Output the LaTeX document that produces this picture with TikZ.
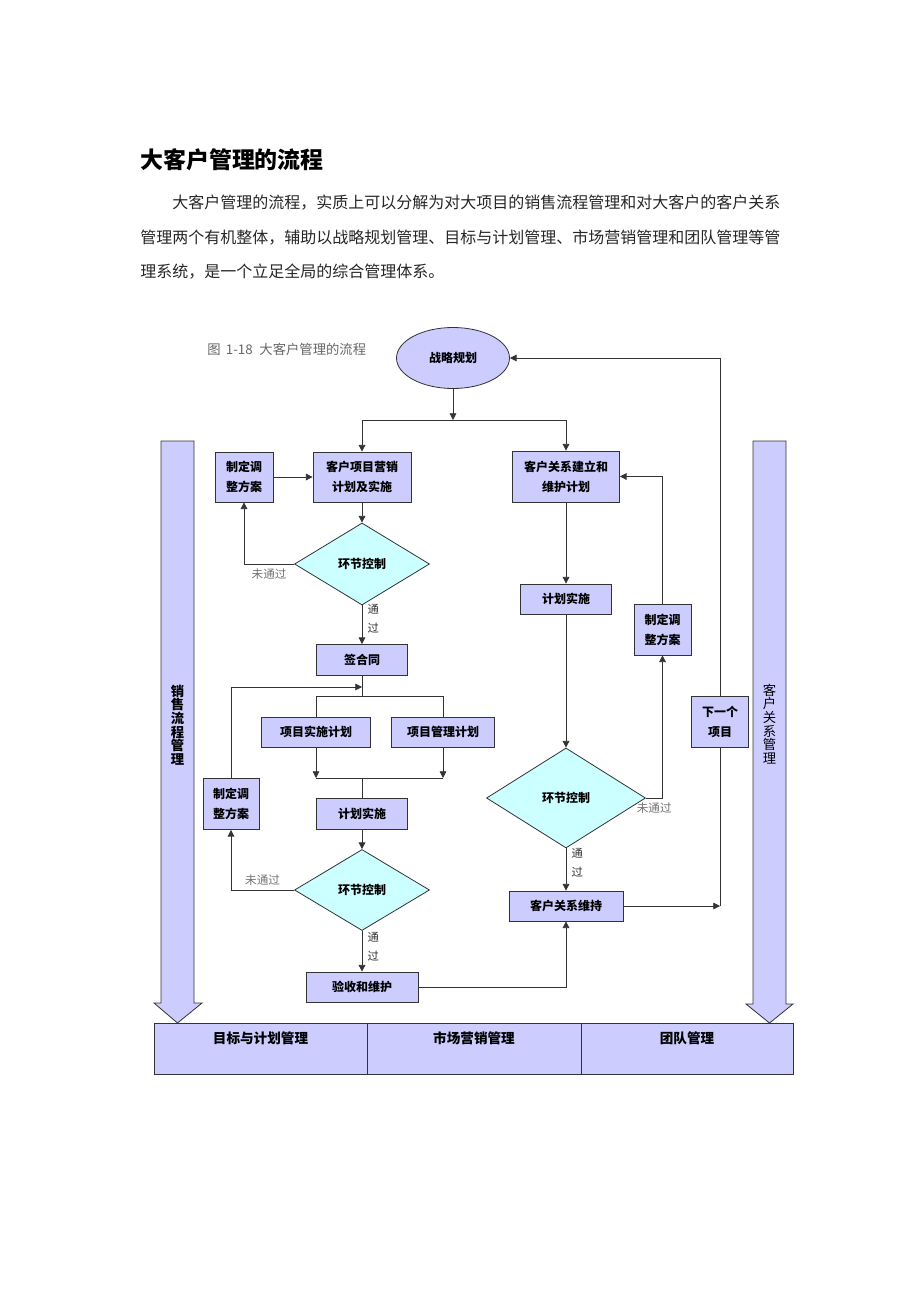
\documentclass[tikz,border=0pt]{standalone}
\usepackage{fontspec}
\setmainfont{Noto Sans CJK SC}
\usetikzlibrary{arrows.meta, shapes.geometric}
\definecolor{boxfill}{HTML}{CCCCFF}
\definecolor{chkfill}{HTML}{CCFFFF}
\definecolor{edge}{HTML}{333333}

\begin{document}
\begin{tikzpicture}[x=0.75pt, y=-0.75pt,
    every node/.style={inner sep=0pt},
    box/.style={rectangle, draw=edge, fill=boxfill, line width=0.6pt, align=center, font=\bfseries\fontsize{9}{15}\selectfont},
    check/.style={diamond, draw=edge, fill=chkfill, line width=0.6pt, font=\bfseries\fontsize{9}{11}\selectfont},
    cell/.style={rectangle, draw=edge, fill=boxfill, line width=0.6pt, minimum height=38.25pt, text height=8pt, text depth=16pt, font=\bfseries\fontsize{10.2}{12}\selectfont},
    bigarrow/.style={draw=edge, fill=boxfill, line width=0.6pt},
    flow/.style={-{Triangle[length=5pt, width=5pt]}, line width=0.6pt, color=black!80},
    link/.style={line width=0.6pt, color=black!80},
    fail/.style={font=\fontsize{8.7}{10}\selectfont, text=black!55, inner sep=3pt},
    pass/.style={font=\fontsize{8.5}{14.25}\selectfont, align=left, inner sep=4pt}
]
\useasboundingbox (0,0) rectangle (920,1302);

% Heading and text
\node[anchor=west, font=\bfseries\fontsize{17.2}{20}\selectfont] (title) at (140,160) {大客户管理的流程};
\node[anchor=west, font=\fontsize{12}{14}\selectfont, text=black!85] (line1) at (172,203) {大客户管理的流程，实质上可以分解为对大项目的销售流程管理和对大客户的客户关系};
\node[anchor=west, font=\fontsize{12}{14}\selectfont, text=black!85] (line2) at (140,238) {管理两个有机整体，辅助以战略规划管理、目标与计划管理、市场营销管理和团队管理等管};
\node[anchor=west, font=\fontsize{12}{14}\selectfont, text=black!85] (line3) at (140,272) {理系统，是一个立足全局的综合管理体系。};
\node[anchor=west, font=\fontsize{10}{12}\selectfont, text=black!60] (caption) at (207,349) {图\hspace{4pt}1-18\hspace{5pt}大客户管理的流程};

% Side arrows and bottom bar
\draw[bigarrow] (161,441) -- (194,441) -- (194,1003) -- (202,1003) -- (177.5,1023) -- (154,1003) -- (161,1003) -- cycle;
\draw[bigarrow] (753,441) -- (786,441) -- (786,1004) -- (793,1004) -- (769.5,1023) -- (746,1004) -- (753,1004) -- cycle;
\node[font=\bfseries\fontsize{10}{10.2}\selectfont, align=center] (salesflow) at (177.5,725) {销\\售\\流\\程\\管\\理};
\node[font=\fontsize{10}{10.2}\selectfont, align=center] (crmflow) at (769.5,724) {客\\户\\关\\系\\管\\理};
\node[cell, minimum width=159.75pt] (goal) at (260.5,1048.5) {目标与计划管理};
\node[cell, minimum width=160.5pt] (market) at (474,1048.5) {市场营销管理};
\node[cell, minimum width=159pt] (team) at (687,1048.5) {团队管理};

% Steps
\node[box, ellipse, minimum width=84.75pt, minimum height=45.75pt] (plan) at (453,358) {战略规划};
\node[box, minimum width=43.5pt, minimum height=37.5pt] (adjA) at (244,477) {制定调\\整方案};
\node[box, minimum width=73.5pt, minimum height=37.5pt] (sales) at (362,477) {客户项目营销\\计划及实施};
\node[check, minimum width=101.25pt, minimum height=61.5pt] (chkA) at (362,564) {环节控制};
\node[box, minimum width=68.25pt, minimum height=23.25pt] (sign) at (362,660) {签合同};
\node[box, minimum width=81.75pt, minimum height=22.5pt] (implplan) at (316,732) {项目实施计划};
\node[box, minimum width=77.25pt, minimum height=22.5pt] (mgmtplan) at (443,732) {项目管理计划};
\node[box, minimum width=68.25pt, minimum height=23.25pt] (execA) at (362,814) {计划实施};
\node[box, minimum width=42pt, minimum height=38.25pt] (adjB) at (231,804) {制定调\\整方案};
\node[check, minimum width=101.25pt, minimum height=60.75pt] (chkB) at (362,890) {环节控制};
\node[box, minimum width=84pt, minimum height=22.5pt] (accept) at (362,987) {验收和维护};
\node[box, minimum width=80.25pt, minimum height=38.25pt] (crmplan) at (566,476.5) {客户关系建立和\\维护计划};
\node[box, minimum width=68.25pt, minimum height=22.5pt] (execB) at (566,599) {计划实施};
\node[box, minimum width=42.75pt, minimum height=38.25pt] (adjC) at (662.5,629.5) {制定调\\整方案};
\node[check, minimum width=119.25pt, minimum height=75pt] (chkC) at (566,798) {环节控制};
\node[box, minimum width=85.5pt, minimum height=22.5pt] (keep) at (566,906) {客户关系维持};
\node[box, minimum width=42.75pt, minimum height=38.25pt] (next) at (720,721.5) {下一个\\项目};

% Junctions
\coordinate (split) at (453,420);
\coordinate (fork) at (362,696);
\coordinate (loopin) at (362,687);
\coordinate (merge) at (362,778);
\coordinate (turn) at (720,906);

% Flows
\draw[flow] (plan) -- (split);
\draw[flow] (split) -| (sales);
\draw[flow] (split) -| (crmplan);
\draw[flow] (adjA) -- (sales);
\draw[flow] (sales) -- (chkA);
\draw[flow] (chkA.west) -| (adjA) node[fail, pos=0.25, below] {未通过};
\draw[flow] (chkA) -- (sign) node[pass, pos=0.35, right] {通\\过};
\draw[link] (sign) -- (fork);
\draw[link] (fork) -| (implplan);
\draw[link] (fork) -| (mgmtplan);
\draw[flow] (implplan) -- (implplan |- merge);
\draw[flow] (mgmtplan) -- (mgmtplan |- merge);
\draw[link] (implplan |- merge) -- (mgmtplan |- merge);
\draw[link] (merge) -- (execA);
\draw[flow] (adjB) |- (loopin);
\draw[flow] (execA) -- (chkB);
\draw[flow] (chkB.west) -| (adjB) node[fail, pos=0.25, above] {未通过};
\draw[flow] (chkB) -- (accept) node[pass, pos=0.4, right] {通\\过};
\draw[flow] (accept) -| (keep);
\draw[flow] (crmplan) -- (execB);
\draw[flow] (execB) -- (chkC);
\draw[flow] (chkC.east) -| (adjC) node[fail, pos=0.25, below] {未通过};
\draw[flow] (adjC) |- (crmplan);
\draw[flow] (chkC) -- (keep) node[pass, pos=0.35, right] {通\\过};
\draw[flow] (keep) -- (turn);
\draw[link] (turn) -- (next);
\draw[flow] (next) |- (plan);
\end{tikzpicture}
\end{document}
